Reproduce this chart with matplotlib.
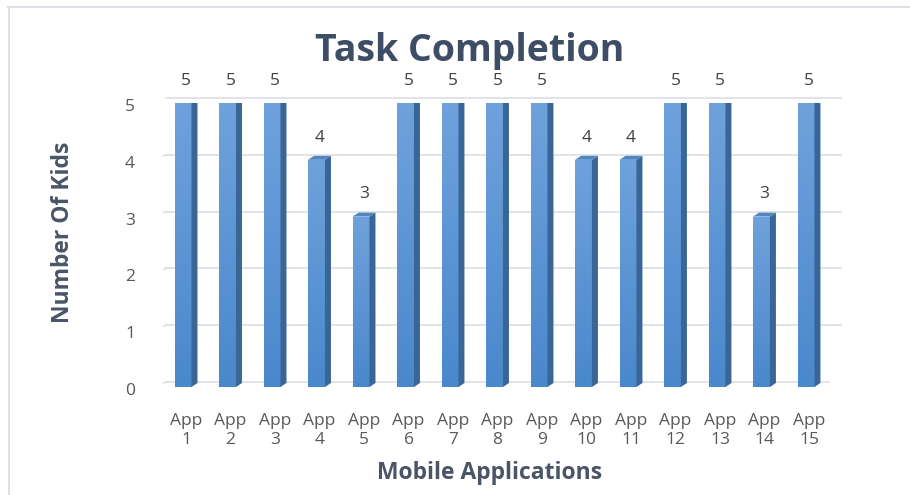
import matplotlib
matplotlib.use("Agg")
import matplotlib.pyplot as plt
import numpy as np
from matplotlib.patches import Polygon
from matplotlib.transforms import ScaledTranslation, blended_transform_factory
from matplotlib.lines import Line2D
from matplotlib.colors import LinearSegmentedColormap

apps = [f"App\n{i}" for i in range(1, 16)]
kids = [5, 5, 5, 4, 3, 5, 5, 5, 5, 4, 4, 5, 5, 3, 5]
yticks = [0, 1, 2, 3, 4, 5]
title = "Task Completion"
xlabel = "Mobile Applications"
ylabel = "Number Of Kids"

plt.rcParams['font.family'] = ['Open Sans', 'DejaVu Sans']
W, H = 910, 495
fig = plt.figure(figsize=(W / 100, H / 100), dpi=100)
ax = fig.add_axes([163 / W, 108 / H, 675 / W, 284 / H])

x = np.arange(1, len(kids) + 1)
bw = 0.38
X0, X1 = 0.55, 15.72
ax.set_xlim(X0, X1)
ax.set_ylim(0, 5)

back = ax.transData + ScaledTranslation(3 / 100, 5 / 100, fig.dpi_scale_trans)
front = ax.transData + ScaledTranslation(-9 / 100, 0, fig.dpi_scale_trans)
for t in yticks:
    xend = X1 if t > 0 else 15.45
    ax.plot([X0, xend], [t, t], color="#d8dbe1", lw=1.1, transform=back,
            zorder=0, clip_on=False)
    p0 = front.transform((X0, t))
    p1 = back.transform((X0, t))
    ax.add_artist(Line2D([p0[0], p1[0]], [p0[1], p1[1]], color="#d8dbe1",
                         lw=1.1, transform=None, zorder=0))

# y tick labels (front plane, slightly below the back gridlines)
ylab_tr = blended_transform_factory(ax.transAxes, ax.transData) + \
    ScaledTranslation(-33 / 100, -4 / 100, fig.dpi_scale_trans)
for t in yticks:
    ax.text(0, t, str(t), transform=ylab_tr, ha="center", va="center",
            fontsize=12.5, color="#595959")

dx = 6 / 44.5
dy = 4 / 57.0
grad = np.linspace(0, 1, 256).reshape(-1, 1)
cmap = LinearSegmentedColormap.from_list("b", ["#4a88cc", "#6fa2dc"])
bars = ax.bar(x, kids, width=bw, color="none", edgecolor="none", zorder=3)
for b, xi, v in zip(bars, x, kids):
    l = xi - bw / 2
    r = xi + bw / 2
    im = ax.imshow(grad, extent=[l, r, 0, v], origin="lower", cmap=cmap,
                   aspect="auto", zorder=3)
    im.set_clip_path(b)
    side = Polygon([[r, 0], [r, v], [r + dx, v + dy], [r + dx, dy]],
                   closed=True, facecolor="#3a6697", edgecolor="none", zorder=3)
    ax.add_patch(side)
    top = Polygon([[l, v], [r, v], [r + dx, v + dy], [l + dx, v + dy]],
                  closed=True, facecolor="#5286c0", edgecolor="none", zorder=3)
    ax.add_patch(top)
    ax.text(xi + dx / 2, v + 0.39, str(v), ha="center", va="center",
            fontsize=12.5, color="#404040", zorder=4)
ax.set_xlim(X0, X1)
ax.set_ylim(0, 5)

for s in ax.spines.values():
    s.set_visible(False)
ax.set_yticks([])
ax.set_xticks(x + dx / 2)
ax.set_xticklabels(apps, fontsize=12.5, color="#595959", linespacing=1.25)
ax.tick_params(axis="both", length=0)
ax.tick_params(axis="x", pad=19)
ax.set_facecolor("none")

fig.text(470 / W, 1 - 51 / H, title, ha="center", va="center",
         fontsize=27, fontweight="bold", color="#3e4d66")
fig.text(490 / W, 1 - 473 / H, xlabel, ha="center", va="center",
         fontsize=16.5, fontweight="bold", color="#4a5568")
fig.text(63 / W, 1 - 232 / H, ylabel, ha="center", va="center", rotation=90,
         fontsize=16.5, fontweight="bold", color="#4a5568")

fig.add_artist(Line2D([8 / W, 1], [1 - 7 / H, 1 - 7 / H], color="#dde1e6", lw=1.5,
                      transform=fig.transFigure))
fig.add_artist(Line2D([9 / W, 9 / W], [0, 1 - 7 / H], color="#dde1e6", lw=1.5,
                      transform=fig.transFigure))

fig.savefig("out.png", dpi=100)
